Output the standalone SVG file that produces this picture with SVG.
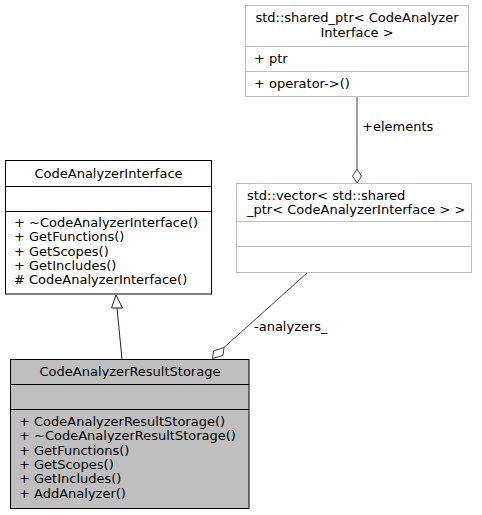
<svg xmlns="http://www.w3.org/2000/svg" width="482" height="515" viewBox="0 0 482 515">
  <style>
    text { font-family: "DejaVu Sans", "Liberation Sans", sans-serif; font-size: 13px; fill: #000; }
    .mid { text-anchor: middle; }
    .box { fill: #fff; stroke: #000; stroke-width: 1; }
    .ext { fill: #fff; stroke: #bfbfbf; stroke-width: 1; }
    .cur { fill: #bfbfbf; stroke: #000; stroke-width: 1; }
    .sepd { stroke: #000; stroke-width: 1; }
    .sepl { stroke: #bfbfbf; stroke-width: 1; }
    .inh { fill: none; stroke: #191970; stroke-width: 1; }
    .inhHead { fill: #fff; stroke: #191970; stroke-width: 1; }
    .agg { fill: none; stroke: #404040; stroke-width: 1; }
    .aggHead { fill: #fff; stroke: #404040; stroke-width: 1; }
  </style>

  <!-- connectors -->
  <g id="edges">
    <!-- inheritance: CodeAnalyzerResultStorage -> CodeAnalyzerInterface -->
    <path class="inh" d="M122,359 L117,308"/>
    <polygon class="inhHead" points="116,295 111.5,308 122.5,308"/>
    <!-- aggregation: analyzers_ -->
    <path class="agg" d="M307,273 L224,347.5"/>
    <polygon class="aggHead" points="212.5,358.5 213.5,351 224,347.5 223,355.5"/>
    <text x="254" y="331">-analyzers_</text>
    <!-- aggregation: elements -->
    <path class="agg" d="M357,97 L357,169"/>
    <polygon class="aggHead" points="357,183 352.5,176 357,169 361.5,176"/>
    <text x="362" y="131">+elements</text>
  </g>

  <!-- std::shared_ptr< CodeAnalyzerInterface > -->
  <g id="node_shared_ptr">
    <rect class="ext" x="245.5" y="5.5" width="223" height="91"/>
    <text class="mid" x="357" y="22">std::shared_ptr&lt; CodeAnalyzer</text>
    <text class="mid" x="357" y="37">Interface &gt;</text>
    <line class="sepl" x1="245.5" y1="46.5" x2="468.5" y2="46.5"/>
    <text x="254" y="63">+ ptr</text>
    <line class="sepl" x1="245.5" y1="71.5" x2="468.5" y2="71.5"/>
    <text x="254" y="88">+ operator-&gt;()</text>
  </g>

  <!-- CodeAnalyzerInterface -->
  <g id="node_interface">
    <rect class="box" x="5.5" y="160.5" width="206" height="133.5"/>
    <text class="mid" x="108.5" y="178">CodeAnalyzerInterface</text>
    <line class="sepd" x1="5.5" y1="186.5" x2="211.5" y2="186.5"/>
    <line class="sepd" x1="5.5" y1="211.5" x2="211.5" y2="211.5"/>
    <text x="14" y="227">+ ~CodeAnalyzerInterface()</text>
    <text x="14" y="241">+ GetFunctions()</text>
    <text x="14" y="255.5">+ GetScopes()</text>
    <text x="14" y="270">+ GetIncludes()</text>
    <text x="14" y="284"># CodeAnalyzerInterface()</text>
  </g>

  <!-- std::vector< std::shared_ptr< CodeAnalyzerInterface > > -->
  <g id="node_vector">
    <rect class="ext" x="236.5" y="183.5" width="235" height="89"/>
    <text x="247" y="199.5">std::vector&lt; std::shared</text>
    <text x="247" y="213.5">_ptr&lt; CodeAnalyzerInterface &gt; &gt;</text>
    <line class="sepl" x1="236.5" y1="221.5" x2="471.5" y2="221.5"/>
    <line class="sepl" x1="236.5" y1="246.5" x2="471.5" y2="246.5"/>
  </g>

  <!-- CodeAnalyzerResultStorage -->
  <g id="node_result_storage">
    <rect class="cur" x="10.5" y="359.5" width="238.5" height="149"/>
    <text class="mid" x="130" y="375.5">CodeAnalyzerResultStorage</text>
    <line class="sepd" x1="10.5" y1="384.5" x2="249" y2="384.5"/>
    <line class="sepd" x1="10.5" y1="409.5" x2="249" y2="409.5"/>
    <text x="19" y="425.5">+ CodeAnalyzerResultStorage()</text>
    <text x="19" y="440">+ ~CodeAnalyzerResultStorage()</text>
    <text x="19" y="454.5">+ GetFunctions()</text>
    <text x="19" y="469">+ GetScopes()</text>
    <text x="19" y="483">+ GetIncludes()</text>
    <text x="19" y="497.5">+ AddAnalyzer()</text>
  </g>
</svg>
